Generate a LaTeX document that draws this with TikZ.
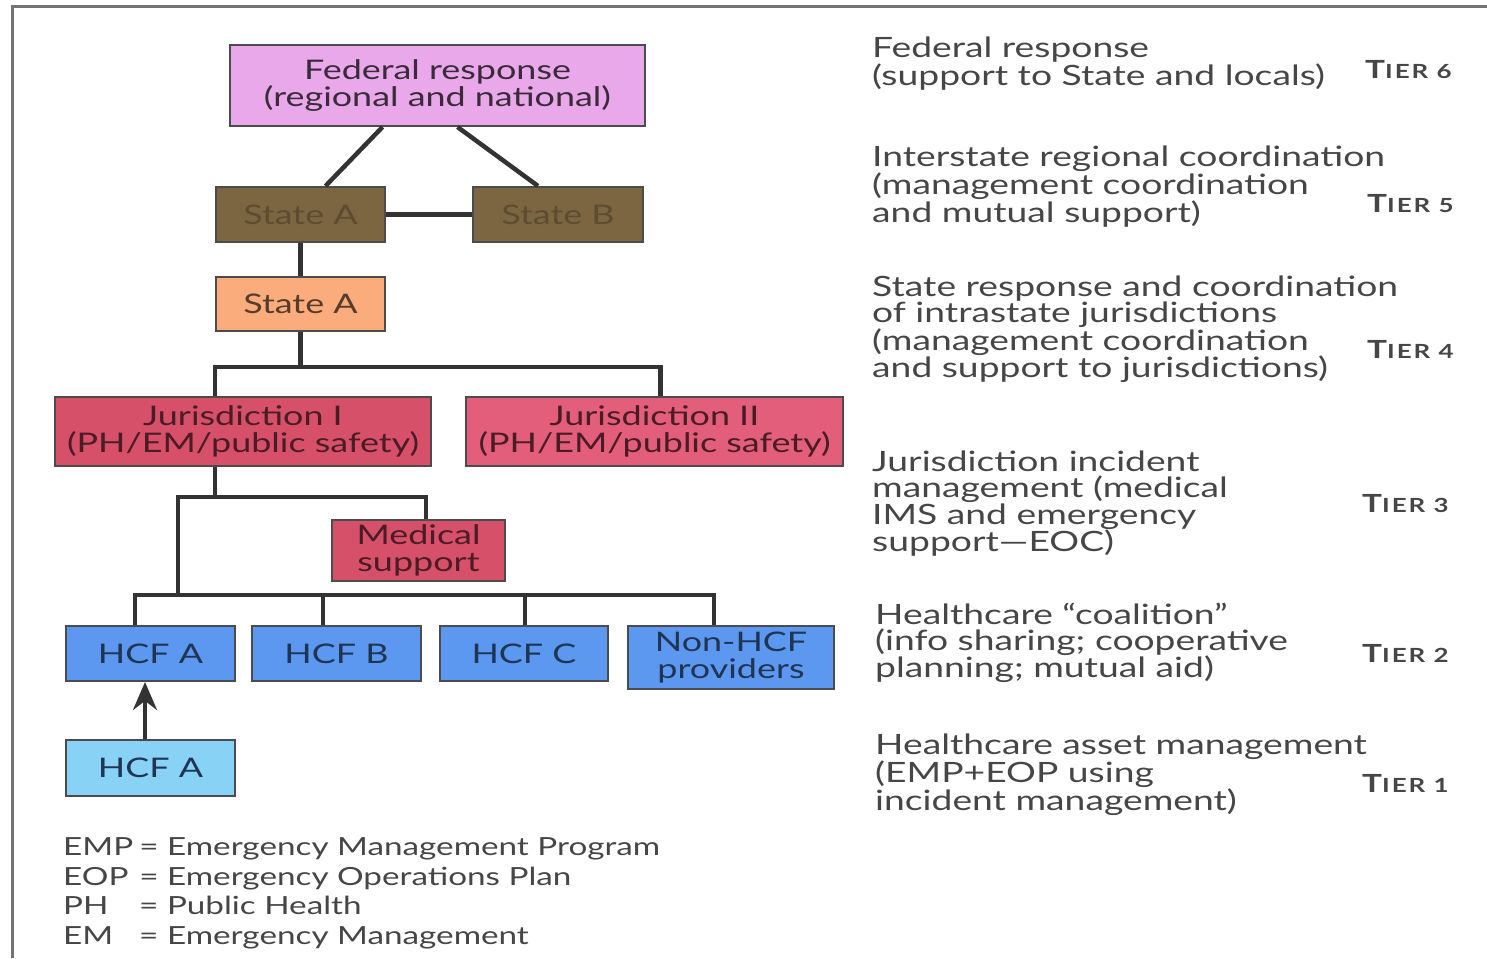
\documentclass[tikz,border=0pt]{standalone}
\usepackage{fontspec}
\setmainfont{Lato}[FakeStretch=1.33]
\usetikzlibrary{arrows.meta}

\definecolor{fedpink}{RGB}{232,168,234}
\definecolor{statebrown}{RGB}{124,102,66}
\definecolor{stateorange}{RGB}{250,172,124}
\definecolor{jurred}{RGB}{214,80,106}
\definecolor{jurredlight}{RGB}{226,94,122}
\definecolor{hcfblue}{RGB}{92,152,240}
\definecolor{hcfcyan}{RGB}{136,210,246}
\definecolor{sidegray}{RGB}{70,70,70}

\tikzset{
  box/.style={draw=black!70, line width=2pt, inner sep=0pt, align=center,
    font=\fontsize{27}{26.5}\selectfont},
  link/.style={draw=black!80, line width=4.5pt},
  side/.style={anchor=north west, align=left, inner sep=0pt, text=sidegray,
    font=\fontsize{28}{25.5}\selectfont},
  tier/.style={anchor=base west, inner sep=0pt, text=sidegray,
    font=\bfseries\fontsize{19.5}{19.5}\selectfont\addfontfeature{LetterSpace=10}},
}
\newcommand{\tiername}[1]{{\fontsize{25}{25}\selectfont T}IER #1}

\begin{document}
\begin{tikzpicture}[x=1pt, y=-1pt]
  \useasboundingbox (0,0) rectangle (1487,958);
  % frame
  \draw[black!55, line width=3pt] (12,958) -- (12,7) -- (1487,7);

  % boxes
  \node[box, fill=fedpink, text=black!75!fedpink, minimum width=415, minimum height=81]
    (fed) at (437.5,85.5) {Federal response\\(regional and national)};
  \node[box, fill=statebrown, text=black!25!statebrown, minimum width=169, minimum height=55]
    (stA) at (300.5,214.5) {State A};
  \node[box, fill=statebrown, text=black!25!statebrown, minimum width=170, minimum height=55]
    (stB) at (558,214.5) {State B};
  \node[box, fill=stateorange, text=black!65!stateorange, minimum width=169, minimum height=54]
    (stA2) at (300.5,304) {State A};
  \node[box, fill=jurred, text=black!65!jurred, minimum width=376, minimum height=69]
    (jur1) at (243,431.5) {Jurisdiction I\\(PH/EM/public safety)};
  \node[box, fill=jurredlight, text=black!65!jurred, minimum width=377, minimum height=69]
    (jur2) at (654.5,431.5) {Jurisdiction II\\(PH/EM/public safety)};
  \node[box, fill=jurred, text=black!65!jurred, minimum width=173, minimum height=61]
    (med) at (418.5,550.5) {Medical\\support};
  \node[box, fill=hcfblue, text=black!65!hcfblue, minimum width=169, minimum height=55]
    (hcfA) at (150.5,653.5) {HCF A};
  \node[box, fill=hcfblue, text=black!65!hcfblue, minimum width=169, minimum height=55]
    (hcfB) at (336.5,653.5) {HCF B};
  \node[box, fill=hcfblue, text=black!65!hcfblue, minimum width=168, minimum height=55]
    (hcfC) at (524,653.5) {HCF C};
  \node[box, fill=hcfblue, text=black!65!hcfblue, minimum width=206, minimum height=63]
    (nonhcf) at (731,657.5) {Non-HCF\\providers};
  \node[box, fill=hcfcyan, text=black!65!hcfblue, minimum width=169, minimum height=56]
    (hcfA2) at (150.5,768) {HCF A};

  % fork points
  \coordinate (f1) at (300.5,367);
  \coordinate (f2) at (215,497);
  \coordinate (f3) at (178,595);

  % connectors
  \draw[link] ([xshift=-55pt]fed.south) -- ([xshift=25pt]stA.north);
  \draw[link] ([xshift=20pt]fed.south) -- ([xshift=-20pt]stB.north);
  \draw[link] (stA.east) -- (stB.west);
  \draw[link] (stA.south) -- (stA2.north);
  \draw[link] (stA2.south) -- (f1);
  \draw[link] ([xshift=-28pt]jur1.north) |- (f1) -| ([xshift=6pt]jur2.north);
  \draw[link] ([xshift=-28pt]jur1.south) -- (f2);
  \draw[link] (f3) |- (f2) -| ([xshift=7.5pt]med.north);
  \draw[link] ([xshift=-15.5pt]hcfA.north) |- (f3)
    -| ([xshift=-17pt]nonhcf.north);
  \foreach \n/\s in {hcfB/-13.5, hcfC/1}
    \draw[link] ([xshift=\s pt]\n.north) -- ([xshift=\s pt]\n.north |- f3);
  \draw[link, line width=4pt, -{Stealth[length=28pt, width=24pt]}]
    ([xshift=-5.5pt]hcfA2.north) -- ([xshift=-5.5pt]hcfA.south);

  % tier descriptions
  \node[side] (t6) at (872,37) {Federal response\\(support to State and locals)};
  \node[side] (t5) at (872,146) {Interstate regional coordination\\(management coordination\\and mutual support)};
  \node[side] (t4) at (872,276) {State response and coordination\\of intrastate jurisdictions\\(management coordination\\and support to jurisdictions)};
  \node[side] (t3) at (872,451) {Jurisdiction incident\\management (medical\\IMS and emergency\\support---EOC)};
  \node[side] (t2) at (875,603) {Healthcare ``coalition''\\(info sharing; cooperative\\planning; mutual aid)};
  \node[side] (t1) at (875,734) {Healthcare asset management\\(EMP+EOP using\\incident management)};

  \node[tier] (r6) at (1365,78) {\tiername{6}};
  \node[tier] (r5) at (1367,212) {\tiername{5}};
  \node[tier] (r4) at (1367,358) {\tiername{4}};
  \node[tier] (r3) at (1362,512) {\tiername{3}};
  \node[tier] (r2) at (1362,662) {\tiername{2}};
  \node[tier] (r1) at (1362,792) {\tiername{1}};

  % legend
  \node[anchor=north west, inner sep=0pt, text=sidegray,
    font=\fontsize{25}{29.5}\selectfont] (legend) at (63,835) {%
    \begin{tabular}{@{}l@{\hspace{6pt}}l@{}}
      EMP & = Emergency Management Program\\
      EOP & = Emergency Operations Plan\\
      PH  & = Public Health\\
      EM  & = Emergency Management
    \end{tabular}};
\end{tikzpicture}
\end{document}
